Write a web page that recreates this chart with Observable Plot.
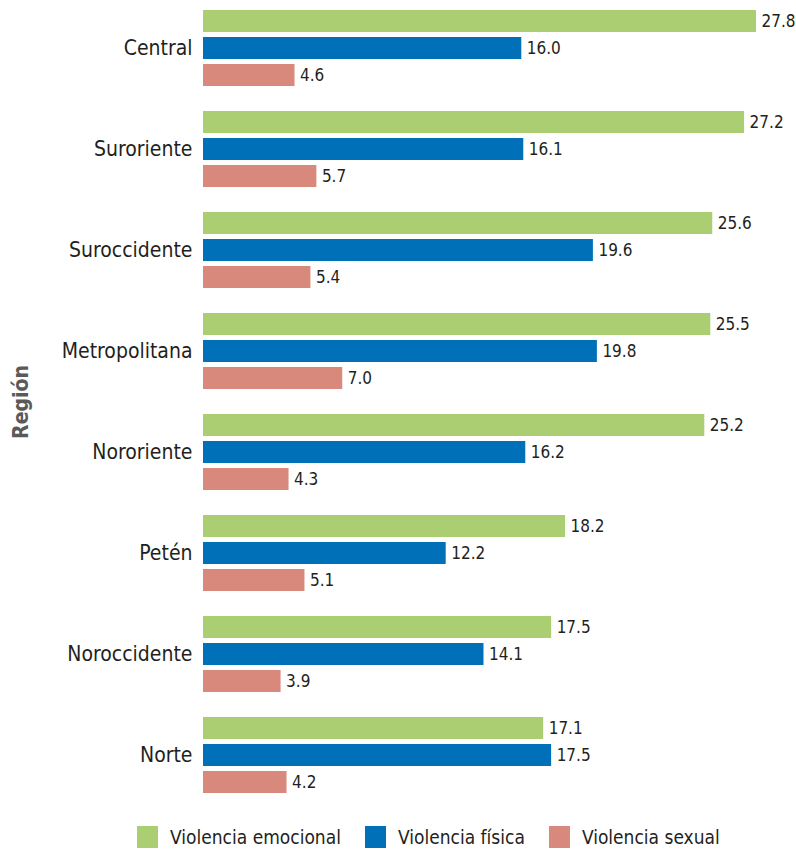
<!DOCTYPE html>
<html>
<head>
<meta charset="utf-8">
<script src="https://cdn.jsdelivr.net/npm/d3@7"></script>
<script src="https://cdn.jsdelivr.net/npm/@observablehq/plot@0.6"></script>
<style>
  body { margin: 0; background: #fff; }
  #chart { font-family: "DejaVu Sans Condensed", "DejaVu Sans", sans-serif; font-stretch: condensed; color: #231f20; }
  #chart svg g[aria-label="fy-axis label"] text { font-weight: bold; fill: #5a5a5a; }
  .legend { display: flex; align-items: center; white-space: nowrap; padding-left: 137px; margin-top: 26px; font-family: "DejaVu Sans Condensed", "DejaVu Sans", sans-serif; font-stretch: condensed; font-size: 19px; color: #231f20; }
  .legend .item { display: flex; align-items: center; margin-right: 24px; }
  .legend .sw { width: 21px; height: 22px; margin-right: 12px; flex: none; }
</style>
</head>
<body>
<div id="chart"></div>
<script>
const regions = ["Central", "Suroriente", "Suroccidente", "Metropolitana", "Nororiente", "Petén", "Noroccidente", "Norte"];
const series = ["Violencia emocional", "Violencia física", "Violencia sexual"];
const emocional = [27.8, 27.2, 25.6, 25.5, 25.2, 18.2, 17.5, 17.1];
const fisica = [16.0, 16.1, 19.6, 19.8, 16.2, 12.2, 14.1, 17.5];
const sexual = [4.6, 5.7, 5.4, 7.0, 4.3, 5.1, 3.9, 4.2];
const colors = ["#abce72", "#0070b8", "#d8897b"];

const data = regions.flatMap((r, i) =>
  [emocional, fisica, sexual].map((arr, j) => ({region: r, serie: series[j], value: arr[i]}))
);

const chart = Plot.plot({
  width: 796,
  height: 800,
  marginLeft: 203,
  marginRight: 36,
  marginTop: 9,
  marginBottom: 6,
  style: {fontFamily: "'DejaVu Sans Condensed', 'DejaVu Sans', sans-serif", color: "#231f20", background: "#fff"},
  x: {domain: [0, 28], axis: null},
  y: {domain: series, axis: null, paddingInner: 5 / 27, paddingOuter: 0},
  fy: {domain: regions, paddingInner: 0.25, paddingOuter: 0},
  color: {domain: series, range: colors},
  marks: [
    Plot.barX(data, {x: "value", y: "serie", fy: "region", fill: "serie"}),
    Plot.text(data, {x: "value", y: "serie", fy: "region", text: d => d.value.toFixed(1), textAnchor: "start", dx: 5, fontSize: 17, fill: "#231f20"}),
    Plot.axisFy({anchor: "left", tickSize: 0, tickPadding: 11, fontSize: 21, label: "Región", labelAnchor: "center", labelOffset: 190, labelArrow: "none"})
  ]
});
document.getElementById("chart").appendChild(chart);

const legend = d3.select("body").append("div").attr("class", "legend");
series.forEach((s, i) => {
  const it = legend.append("div").attr("class", "item");
  it.append("div").attr("class", "sw").style("background", colors[i]);
  it.append("span").text(s);
});
</script>
</body>
</html>
